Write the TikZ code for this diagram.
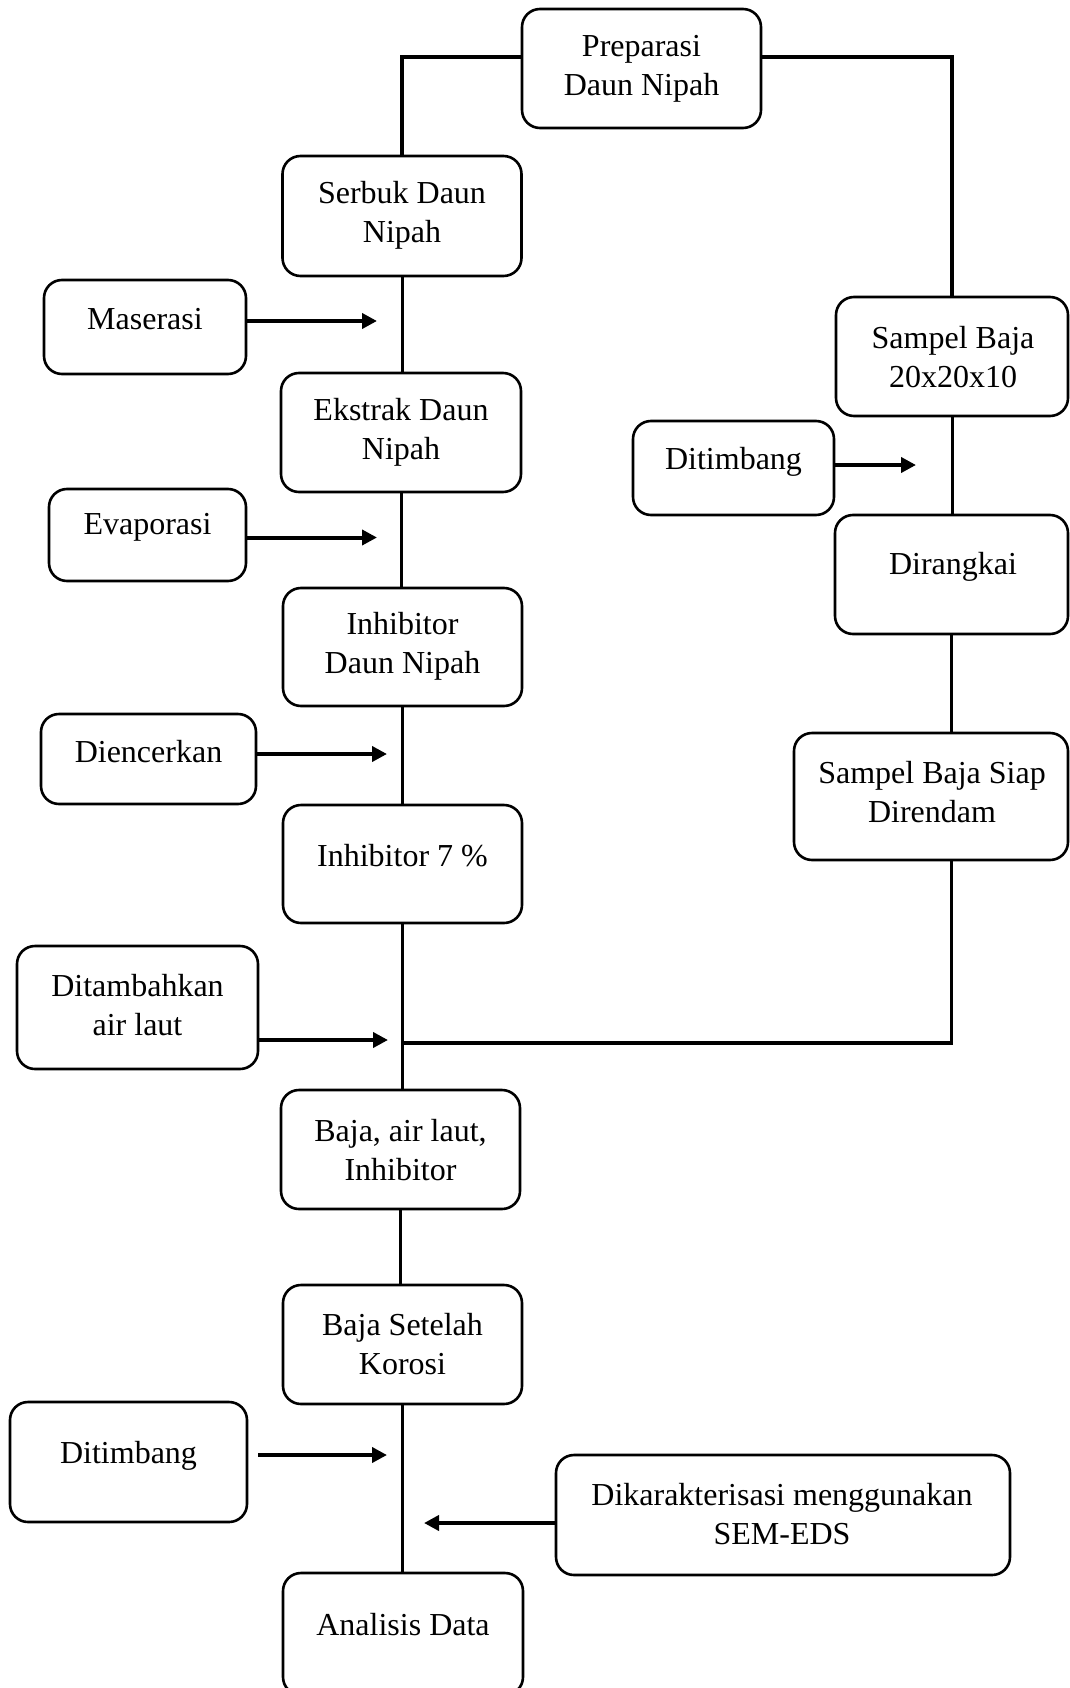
\documentclass[tikz,border=0pt]{standalone}
\usepackage{fontspec}
\setmainfont{Liberation Serif}
\usetikzlibrary{arrows.meta}
\begin{document}
\begin{tikzpicture}[x=1pt,y=-1pt,
  box/.style={draw, line width=2.6pt, rounded corners=18pt, inner sep=0pt},
  txt/.style={align=center, inner sep=0pt, yshift=-2.5pt, font=\fontsize{32}{39}\selectfont},
  conn/.style={line width=3pt},
  arr/.style={line width=4pt, -{Triangle[length=15pt,width=15pt]}}]
\fill[white] (0,0) rectangle (1070,1688);
\useasboundingbox (0,0) rectangle (1070,1688);
% boxes
\node[box, minimum width=239pt, minimum height=119pt] (prep) at (641.5,68.5) {};
\node[box, minimum width=239pt, minimum height=120pt] (serbuk) at (402,216) {};
\node[box, minimum width=202pt, minimum height=94pt] (maserasi) at (145,327) {};
\node[box, minimum width=240pt, minimum height=119pt] (ekstrak) at (401,432.5) {};
\node[box, minimum width=232pt, minimum height=119pt] (sampel) at (952,356.5) {};
\node[box, minimum width=201pt, minimum height=94pt] (ditR) at (733.5,468) {};
\node[box, minimum width=233pt, minimum height=119pt] (dirangkai) at (951.5,574.5) {};
\node[box, minimum width=197pt, minimum height=92pt] (evap) at (147.5,535) {};
\node[box, minimum width=239pt, minimum height=118pt] (inhDN) at (402.5,647) {};
\node[box, minimum width=215pt, minimum height=90pt] (dienc) at (148.5,759) {};
\node[box, minimum width=239pt, minimum height=118pt] (inh7) at (402.5,864) {};
\node[box, minimum width=241pt, minimum height=123pt] (ditamb) at (137.5,1007.5) {};
\node[box, minimum width=274pt, minimum height=127pt] (siap) at (931,796.5) {};
\node[box, minimum width=239pt, minimum height=119pt] (baja) at (400.5,1149.5) {};
\node[box, minimum width=239pt, minimum height=119pt] (korosi) at (402.5,1344.5) {};
\node[box, minimum width=237pt, minimum height=120pt] (ditB) at (128.5,1462) {};
\node[box, minimum width=454pt, minimum height=120pt] (sem) at (783,1515) {};
\node[box, minimum width=240pt, minimum height=122pt] (anal) at (403,1634) {};
% texts
\node[txt] (prep-t) at (641.5,66) {Preparasi\\Daun Nipah};
\node[txt] (serbuk-t) at (402,212.5) {Serbuk Daun\\Nipah};
\node[txt] (maserasi-t) at (145,317) {Maserasi};
\node[txt] (ekstrak-t) at (401,430) {Ekstrak Daun\\Nipah};
\node[txt] (sampel-t) at (953,354.5) {Sampel Baja\\20x20x10};
\node[txt] (ditR-t) at (733.5,459) {Ditimbang};
\node[txt] (dirangkai-t) at (953,564) {Dirangkai};
\node[txt] (evap-t) at (147.5,525) {Evaporasi};
\node[txt] (inhDN-t) at (402.5,644) {Inhibitor\\Daun Nipah};
\node[txt] (dienc-t) at (148.5,749) {Diencerkan};
\node[txt] (inh7-t) at (402.5,853) {Inhibitor 7 \%};
\node[txt] (ditamb-t) at (137.5,1002.5) {Ditambahkan\\air laut};
\node[txt] (siap-t) at (932,790) {Sampel Baja Siap\\Direndam};
\node[txt] (baja-t) at (400.5,1148) {Baja, air laut,\\Inhibitor};
\node[txt] (korosi-t) at (402.5,1342) {Baja Setelah\\Korosi};
\node[txt] (ditB-t) at (128.5,1453) {Ditimbang};
\node[txt] (sem-t) at (782,1512) {Dikarakterisasi menggunakan\\SEM-EDS};
\node[txt] (anal-t) at (403,1622) {Analisis Data};
% connectors
\draw[conn, line width=3.6pt] ([yshift=11.5pt]prep.west) -| (serbuk.north);
\draw[conn, line width=3.6pt] ([yshift=11.5pt]prep.east) -| (sampel.north);
\draw[conn] (serbuk.south) -- (serbuk.south |- ekstrak.north);
\draw[conn] (ekstrak.south) -- (ekstrak.south |- inhDN.north);
\draw[conn] (inhDN.south) -- (inhDN.south |- inh7.north);
\coordinate (junc) at (402.5,1043);
\draw[conn] (inh7.south) -- (inh7.south |- baja.north);
\draw[conn] (baja.south) -- (baja.south |- korosi.north);
\draw[conn] (korosi.south) -- (korosi.south |- anal.north);
\draw[conn] (sampel.south) -- (sampel.south |- dirangkai.north);
\draw[conn] (dirangkai.south) -- (dirangkai.south |- siap.north);
\draw[conn, line width=3.6pt] (siap.south -| dirangkai.south) |- (junc);
% arrows
\coordinate (a1) at (377,321);
\draw[arr] (maserasi.east |- a1) -- (a1);
\coordinate (a2) at (377,537.5);
\draw[arr] (evap.east |- a2) -- (a2);
\coordinate (a3) at (387,754);
\draw[arr] (dienc.east |- a3) -- (a3);
\coordinate (a4) at (388,1040);
\draw[arr] (ditamb.east |- a4) -- (a4);
\coordinate (a5) at (916,465);
\draw[arr] (ditR.east |- a5) -- (a5);
\coordinate (s6) at (258,1455);
\coordinate (a6) at (387,1455);
\draw[arr] (s6) -- (a6);
\coordinate (a7) at (424,1523);
\draw[arr] (sem.west |- a7) -- (a7);
\end{tikzpicture}
\end{document}
